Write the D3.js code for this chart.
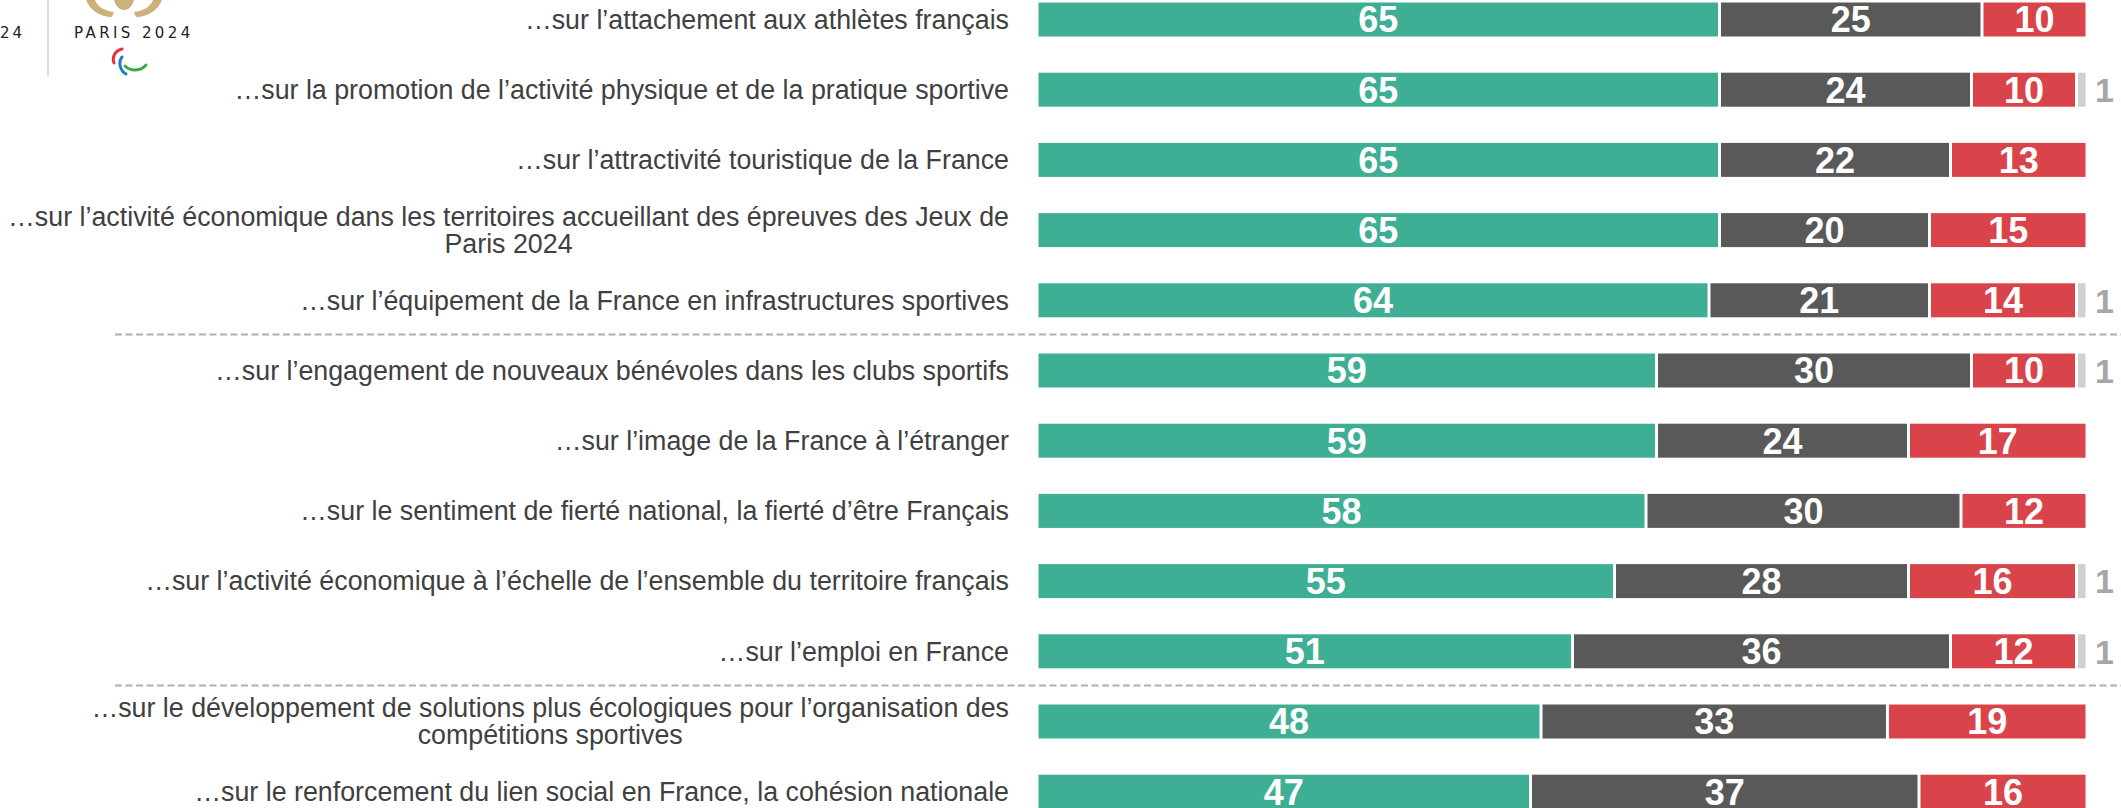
<!DOCTYPE html>
<html>
<head>
<meta charset="utf-8">
<script src="https://cdn.jsdelivr.net/npm/d3@7"></script>
<style>
  body { margin: 0; background: #fff; }
  svg { display: block; }
</style>
</head>
<body>
<svg id="chart" width="2121" height="808"></svg>
<script>
// row labels (multi-line labels are split in lines)
var labels = [
    ["…sur l’attachement aux athlètes français"],
    ["…sur la promotion de l’activité physique et de la pratique sportive"],
    ["…sur l’attractivité touristique de la France"],
    ["…sur l’activité économique dans les territoires accueillant des épreuves des Jeux de", "Paris 2024"],
    ["…sur l’équipement de la France en infrastructures sportives"],
    ["…sur l’engagement de nouveaux bénévoles dans les clubs sportifs"],
    ["…sur l’image de la France à l’étranger"],
    ["…sur le sentiment de fierté national, la fierté d’être Français"],
    ["…sur l’activité économique à l’échelle de l’ensemble du territoire français"],
    ["…sur l’emploi en France"],
    ["…sur le développement de solutions plus écologiques pour l’organisation des", "compétitions sportives"],
    ["…sur le renforcement du lien social en France, la cohésion nationale"]
]

// values in %
var positive = [65, 65, 65, 65, 64, 59, 59, 58, 55, 51, 48, 47]
var neutral = [25, 24, 22, 20, 21, 30, 24, 30, 28, 36, 33, 37]
var negative = [10, 10, 13, 15, 14, 10, 17, 12, 16, 12, 19, 16]
var noAnswer = [0, 1, 0, 0, 1, 1, 0, 0, 1, 1, 0, 0]

// dashed separators come after these rows
var groupBreaks = [5, 10]

var seriesKeys = ["positive", "neutral", "negative", "noAnswer"]
var seriesColors = ["#3EAE94", "#595959", "#D9444B", "#D0D0D0"]

var rows = labels.map(function (l, i) {
    return { id: i, lines: l, positive: positive[i], neutral: neutral[i], negative: negative[i], noAnswer: noAnswer[i] }
})

document.addEventListener('DOMContentLoaded', function () {
    DrawLogo();
    DrawChart();
});

function DrawChart() {
    var svg = d3.select('#chart');
    var g = svg.append('g');

    var x = d3.scaleLinear().domain([0, 100]).range([1037, 2087]);
    var y = d3.scaleBand()
        .domain(rows.map(function (d) { return d.id; }))
        .range([-33.7, 844.9])
        .paddingInner(0.5157)
        .paddingOuter(0.5157);

    var stack = d3.stack().keys(seriesKeys)(rows);

    // separators
    g.selectAll('.sep')
        .data(groupBreaks)
        .enter().append('line')
        .attr('x1', 115)
        .attr('x2', 2121)
        .attr('y1', function (d) { return (y(d - 1) + y(d) + y.bandwidth()) / 2 - 1; })
        .attr('y2', function (d) { return (y(d - 1) + y(d) + y.bandwidth()) / 2 - 1; })
        .attr('stroke', '#B0B0B0')
        .attr('stroke-width', 2)
        .attr('stroke-dasharray', '7,3.5');

    // bar segments
    var layers = g.selectAll('.layer')
        .data(stack)
        .enter().append('g')
        .attr('fill', function (d, i) { return seriesColors[i]; });

    layers.selectAll('rect')
        .data(function (d) { return d; })
        .enter().append('rect')
        .filter(function (d) { return d[1] - d[0] > 0; })
        .attr('x', function (d) { return x(d[0]) + 1.5; })
        .attr('y', function (d) { return y(d.data.id); })
        .attr('width', function (d) { return Math.max(0, x(d[1]) - x(d[0]) - 3); })
        .attr('height', y.bandwidth());

    // value labels inside the bars
    stack.slice(0, 3).forEach(function (layer) {
        g.selectAll(null)
            .data(layer)
            .enter().append('text')
            .attr('x', function (d) { return (x(d[0]) + x(d[1])) / 2; })
            .attr('y', function (d) { return y(d.data.id) + y.bandwidth() / 2; })
            .attr('dy', '0.36em')
            .attr('text-anchor', 'middle')
            .attr('fill', '#fff')
            .style('font-family', '"Liberation Sans", Arial, sans-serif')
            .style('font-weight', 'bold')
            .style('font-size', '36px')
            .text(function (d) { return d[1] - d[0]; });
    });

    // small "no answer" values go outside on the right
    g.selectAll(null)
        .data(stack[3].filter(function (d) { return d[1] - d[0] > 0; }))
        .enter().append('text')
        .attr('x', function (d) { return x(d[1]) + 8; })
        .attr('y', function (d) { return y(d.data.id) + y.bandwidth() / 2; })
        .attr('dy', '0.36em')
        .attr('fill', '#A6A6A6')
        .style('font-family', '"Liberation Sans", Arial, sans-serif')
        .style('font-weight', 'bold')
        .style('font-size', '34px')
        .text(function (d) { return d[1] - d[0]; });

    // row labels, right aligned; second lines are centred under the first
    var lineH = 27;
    rows.forEach(function (r) {
        var cy = y(r.id) + y.bandwidth() / 2;
        var n = r.lines.length;
        var first = g.append('text')
            .attr('x', 1009)
            .attr('y', cy - (n - 1) * lineH / 2)
            .attr('dy', '0.35em')
            .attr('text-anchor', 'end')
            .attr('fill', '#404040')
            .style('font-family', '"Liberation Sans", Arial, sans-serif')
            .style('font-size', '26.8px')
            .text(r.lines[0]);
        var w = first.node().getComputedTextLength();
        for (var k = 1; k < n; k++) {
            g.append('text')
                .attr('x', 1009 - w / 2)
                .attr('y', cy - (n - 1) * lineH / 2 + k * lineH)
                .attr('dy', '0.35em')
                .attr('text-anchor', 'middle')
                .attr('fill', '#404040')
                .style('font-family', '"Liberation Sans", Arial, sans-serif')
                .style('font-size', '26.8px')
                .text(r.lines[k]);
        }
    });
}

function DrawLogo() {
    var svg = d3.select('#chart');
    var g = svg.append('g');

    g.append('text')
        .attr('x', 0).attr('y', 38)
        .attr('fill', '#222')
        .style('font-family', '"DejaVu Sans", sans-serif')
        .style('font-size', '15px')
        .style('letter-spacing', '3px')
        .text('24');

    g.append('line')
        .attr('x1', 48).attr('x2', 48)
        .attr('y1', 0).attr('y2', 75)
        .attr('stroke', '#CFCFCF')
        .attr('stroke-width', 1.5);

    // gold emblem (only its lower part is visible)
    g.append('path')
        .attr('d', 'M86,0 C90,10 100,17 112,17 L114,12 C104,11 97,6 95,0 Z')
        .attr('fill', '#CDB07A');
    g.append('path')
        .attr('d', 'M162,0 C158,10 148,17 136,17 L134,12 C144,11 151,6 153,0 Z')
        .attr('fill', '#CDB07A');
    g.append('path')
        .attr('d', 'M114,0 C116,7 120,10 124,10 C128,10 132,7 134,0 Z')
        .attr('fill', '#CDB07A');

    g.append('text')
        .attr('x', 74).attr('y', 38)
        .attr('fill', '#222')
        .style('font-family', '"DejaVu Sans", sans-serif')
        .style('font-size', '15px')
        .style('letter-spacing', '3.4px')
        .text('PARIS 2024');

    // agitos
    g.append('path').attr('d', 'M122,49 C114,51 112,58 114,63')
        .attr('stroke', '#E3343F').attr('stroke-width', 3).attr('fill', 'none').attr('stroke-linecap', 'round');
    g.append('path').attr('d', 'M122,57 C118,62 120,71 126,74')
        .attr('stroke', '#1C7FC4').attr('stroke-width', 3).attr('fill', 'none').attr('stroke-linecap', 'round');
    g.append('path').attr('d', 'M125,66 C131,72 141,71 146,65')
        .attr('stroke', '#3AAA4A').attr('stroke-width', 3).attr('fill', 'none').attr('stroke-linecap', 'round');
}
</script>
</body>
</html>
